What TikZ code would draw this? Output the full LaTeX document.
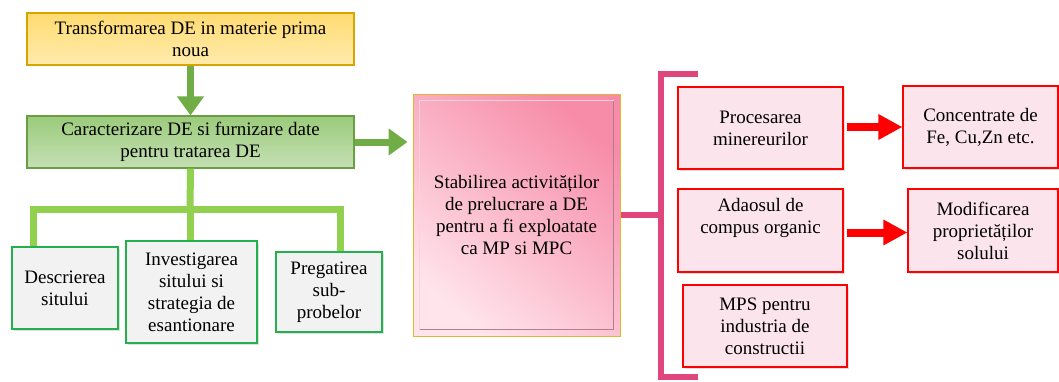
\documentclass[tikz,border=0pt]{standalone}
\usepackage{fontspec}
\setmainfont{Liberation Serif}
\usetikzlibrary{arrows.meta,shadows}
\definecolor{ybg}{HTML}{FFE699}
\definecolor{ytop}{HTML}{FFD24D}
\definecolor{ybd}{HTML}{D9A400}
\definecolor{gbg}{HTML}{C5E0B4}
\definecolor{gtop}{HTML}{9BCB7B}
\definecolor{gbd}{HTML}{6A9E45}
\definecolor{garr}{HTML}{70AD47}
\definecolor{lgreen}{HTML}{92D050}
\definecolor{sgbd}{HTML}{22B14C}
\definecolor{graybg}{HTML}{F2F2F2}
\definecolor{pinkdark}{HTML}{F78CA8}
\definecolor{pinklight}{HTML}{FFE4EC}
\definecolor{pinkbd}{HTML}{8E4A60}
\definecolor{brk}{HTML}{E0457B}
\definecolor{rbg}{HTML}{FCE4EC}
\tikzset{
  txt/.style={font=\fontsize{19}{22}\selectfont, align=center, inner sep=0pt, text=black},
  ybox/.style={txt, draw=ybd, line width=1.2pt, top color=ytop!80, bottom color=ybg!80,
    minimum width=327pt, minimum height=52pt},
  gbox/.style={txt, draw=gbd, line width=1.2pt, top color=gtop, bottom color=gbg,
    minimum width=327pt, minimum height=52pt},
  sbox/.style={txt, draw=sgbd, line width=1.2pt, fill=graybg,
    drop shadow={opacity=0.25, shadow xshift=1.5pt, shadow yshift=-1.5pt}},
  rbox/.style={txt, draw=red, line width=1.1pt, fill=rbg,
    drop shadow={opacity=0.25, shadow xshift=1.5pt, shadow yshift=-1.5pt}},
  garrow/.style={draw=garr, line width=7pt, -{Triangle[length=19pt,width=26pt]}},
  rarrow/.style={draw=red, line width=8pt, -{Triangle[length=24pt,width=24pt]}},
  tree/.style={draw=lgreen, line width=7pt, line join=miter},
  bracket/.style={draw=brk, line width=6pt, line join=miter},
}
\begin{document}
\begin{tikzpicture}[x=1pt,y=-1pt]
\useasboundingbox (0,0) rectangle (1059,381);
% left column
\node[ybox] (top) at (190.5,39) {Transformarea DE in materie prima\\noua};
\node[gbox] (car) at (190.5,142) {Caracterizare DE si furnizare date\\pentru tratarea DE};
\draw[garrow] (top.south) -- (car.north);
% small boxes
\node[sbox, minimum width=106pt, minimum height=82pt] (b1) at (65,288) {Descrierea\\sitului};
\node[sbox, minimum width=131pt, minimum height=102pt] (b2) at (191.5,292) {Investigarea\\sitului si\\strategia de\\esantionare};
\node[sbox, minimum width=106pt, minimum height=80pt] (b3) at (329,292) {Pregatirea\\sub-\\probelor};
\coordinate (j) at (190,209);
\coordinate (tl) at (33,209);
\coordinate (tr) at (340,209);
\draw[tree] (car.south) -- (j);
\draw[tree] (b1.north -| tl) -- (tl) -- (tr) -- (b3.north -| tr);
\draw[tree] (j) -- (b2.north -| j);
% center pink box
\node[txt, minimum width=207pt, minimum height=242pt, draw=ybd!80, line width=1pt,
  top color=pinkdark, bottom color=pinklight, shading angle=-40] (mid) at (516.5,215)
  {Stabilirea activităților\\de prelucrare a DE\\pentru a fi exploatate\\ca MP si MPC};
\draw[pinkbd!70, line width=1.2pt] ([shift={(7pt,7pt)}]mid.south west) rectangle ([shift={(-7pt,-7pt)}]mid.north east);
\draw[white!60!pinkdark, line width=1.5pt] ([shift={(7pt,7pt)}]mid.south west) -- ([shift={(7pt,-7pt)}]mid.north west) -- ([shift={(-7pt,-7pt)}]mid.north east);
\draw[garrow] (car.east) -- ([xshift=-5pt]mid.west |- car.east);
% bracket
\coordinate (bt) at (661,73.5);
\coordinate (bb) at (661,376.5);
\coordinate (bte) at (698,73.5);
\coordinate (bbe) at (698,376.5);
\draw[bracket] (bte) -- (bt) -- (bb) -- (bbe);
\draw[bracket] (mid.east) -- (mid.east -| bt);
% right boxes
\node[rbox, minimum width=165pt, minimum height=82pt] (ra) at (760.5,128) {Procesarea\\minereurilor};
\node[rbox, minimum width=165pt, minimum height=83pt] (rb) at (760.5,230.5) {Adaosul de\\compus organic\\\strut};
\node[rbox, minimum width=164pt, minimum height=82pt] (rc) at (765,326) {MPS pentru\\industria de\\constructii};
\node[rbox, minimum width=155pt, minimum height=82pt] (rd) at (980.5,127) {Concentrate de\\Fe, Cu,Zn etc.};
\node[rbox, minimum width=150pt, minimum height=83pt] (re) at (983,230.5) {Modificarea\\proprietăților\\solului};
\coordinate (ay) at (0,127);
\coordinate (by) at (0,232.5);
\draw[rarrow] ([xshift=3pt]ra.east |- ay) -- (rd.west |- ay);
\draw[rarrow] ([xshift=3pt]rb.east |- by) -- (re.west |- by);
\end{tikzpicture}
\end{document}
